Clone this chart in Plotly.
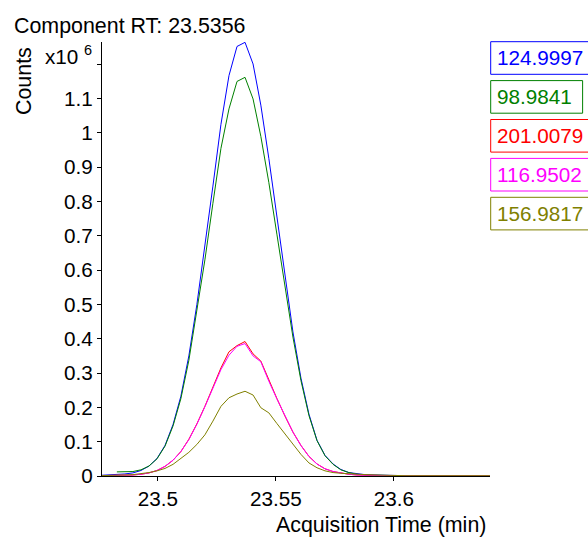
import plotly.graph_objects as go

# Acquisition times (min)
time_min = [
    23.4758, 23.4792, 23.4826, 23.4860, 23.4894, 23.4928, 23.4962, 23.4996,
    23.5030, 23.5064, 23.5097, 23.5131, 23.5165, 23.5199, 23.5233, 23.5267,
    23.5301, 23.5335, 23.5369, 23.5403, 23.5436, 23.5470, 23.5504, 23.5538,
    23.5572, 23.5606, 23.5640, 23.5674, 23.5708, 23.5742, 23.5775, 23.5809,
    23.5843, 23.5877, 23.5911, 23.5945, 23.5979, 23.6013, 23.6047, 23.6081,
    23.6114, 23.6148, 23.6182, 23.6216, 23.6250, 23.6284, 23.6318, 23.6352,
    23.6386, 23.6420,
]

# Ion chromatograms, counts in units of 1e6
mz_124_9997 = [
    0.002, 0.003, 0.004, 0.006, 0.009, 0.016, 0.029, 0.051, 0.089, 0.150,
    0.232, 0.350, 0.500, 0.665, 0.845, 1.025, 1.167, 1.252, 1.264, 1.201,
    1.081, 0.925, 0.755, 0.580, 0.420, 0.285, 0.180, 0.104, 0.060, 0.035,
    0.019, 0.010, 0.006, 0.004, 0.003, 0.002, 0.002, 0.001, 0.001, 0.001,
    0.001, 0.001, 0.001, 0.001, 0.001, 0.001, 0.001, 0.001, 0.001, 0.001,
]
mz_98_9841 = [
    None, None, 0.012, 0.012, 0.013, 0.018, 0.029, 0.050, 0.087, 0.146,
    0.225, 0.337, 0.478, 0.630, 0.795, 0.955, 1.070, 1.150, 1.162, 1.099,
    0.990, 0.855, 0.705, 0.550, 0.405, 0.278, 0.176, 0.103, 0.059, 0.034,
    0.018, 0.010, 0.005, 0.003, 0.002, 0.002, 0.002, 0.001, 0.001, 0.001,
    0.001, 0.001, 0.001, 0.001, 0.001, 0.001, 0.001, 0.001, 0.001, 0.001,
]
mz_201_0079 = [
    0.001, 0.001, 0.002, 0.002, 0.003, 0.005, 0.009, 0.016, 0.028, 0.046,
    0.071, 0.107, 0.152, 0.203, 0.258, 0.315, 0.362, 0.380, 0.392, 0.356,
    0.335, 0.278, 0.226, 0.175, 0.128, 0.089, 0.057, 0.035, 0.021, 0.013,
    0.008, 0.005, 0.003, 0.002, 0.002, 0.002, 0.001, 0.001, 0.001, 0.001,
    0.001, 0.001, 0.001, 0.001, 0.001, 0.001, 0.001, 0.001, 0.001, 0.001,
]
mz_116_9502 = [
    0.001, 0.001, 0.002, 0.002, 0.003, 0.005, 0.009, 0.016, 0.028, 0.046,
    0.071, 0.106, 0.151, 0.202, 0.256, 0.310, 0.352, 0.378, 0.386, 0.350,
    0.333, 0.276, 0.225, 0.174, 0.128, 0.089, 0.057, 0.035, 0.021, 0.013,
    0.008, 0.005, 0.003, 0.002, 0.002, 0.002, 0.001, 0.001, 0.001, 0.001,
    0.001, 0.001, 0.001, 0.001, 0.001, 0.001, 0.001, 0.001, 0.001, 0.001,
]
mz_156_9817 = [
    0.001, 0.001, 0.002, 0.003, 0.004, 0.006, 0.010, 0.015, 0.022, 0.034,
    0.050, 0.069, 0.092, 0.120, 0.160, 0.203, 0.228, 0.239, 0.247, 0.236,
    0.199, 0.184, 0.153, 0.123, 0.094, 0.063, 0.038, 0.024, 0.015, 0.010,
    0.008, 0.006, 0.005, 0.004, 0.003, 0.002, 0.002, 0.002, 0.001, 0.001,
    0.001, 0.001, 0.001, 0.001, 0.001, 0.001, 0.001, 0.001, 0.001, 0.001,
]

ion_labels = ["124.9997", "98.9841", "201.0079", "116.9502", "156.9817"]
ion_series = [mz_124_9997, mz_98_9841, mz_201_0079, mz_116_9502, mz_156_9817]
ion_colors = ["#0000ff", "#008000", "#ff0000", "#ff00ff", "#808000"]

y_tick_vals = [0, 0.1, 0.2, 0.3, 0.4, 0.5, 0.6, 0.7, 0.8, 0.9, 1.0, 1.1, 1.2]
y_tick_text = ["0", "0.1", "0.2", "0.3", "0.4", "0.5", "0.6", "0.7", "0.8",
               "0.9", "1", "1.1", ""]
x_tick_vals = [23.5, 23.55, 23.6]
x_tick_text = ["23.5", "23.55", "23.6"]

title_text = "Component RT: 23.5356"

FONT = "Liberation Sans, Arial, sans-serif"
TITLE_SIZE = 21.4
TICK_SIZE = 20.7
W, H = 588, 538
ML, MR, MT, MB = 102, 98, 42, 62
PW, PH = W - ML - MR, H - MT - MB


def px(xp):
    return (xp - ML) / PW


def py(yp):
    return (H - MB - yp) / PH


fig = go.Figure()
for series, color, label in zip(ion_series, ion_colors, ion_labels):
    fig.add_trace(go.Scatter(
        x=time_min, y=series, mode="lines", name=label,
        line=dict(color=color, width=1), connectgaps=False,
        hoverinfo="skip",
    ))

shapes = []
annotations = []

# Boxed ion labels on the right
for i, (label, color) in enumerate(zip(ion_labels, ion_colors)):
    top = 41.7 + 38.9 * i
    bottom = top + 32.6
    n_digits = sum(ch.isdigit() for ch in label)
    text_w = (0.556 * n_digits + 0.278 * label.count(".")) * TICK_SIZE
    left = 490.7
    right = left + 4.6 + text_w + 12.5
    shapes.append(dict(
        type="rect", xref="paper", yref="paper",
        x0=px(left), x1=px(right), y0=py(bottom), y1=py(top),
        line=dict(color=color, width=1), fillcolor="rgba(0,0,0,0)",
        layer="above",
    ))
    annotations.append(dict(
        xref="paper", yref="paper", x=px(494.5), y=py((top + bottom) / 2),
        xanchor="left", yanchor="middle", text=label, showarrow=False,
        font=dict(family=FONT, size=TICK_SIZE, color=color),
    ))

annotations += [
    dict(xref="paper", yref="paper", x=px(12), y=py(26), xanchor="left",
         yanchor="middle", text=title_text, showarrow=False,
         font=dict(family=FONT, size=TITLE_SIZE, color="black")),
    dict(xref="paper", yref="paper", x=px(24), y=py(81), xanchor="center",
         yanchor="middle", text="Counts", textangle=-90, showarrow=False,
         font=dict(family=FONT, size=TITLE_SIZE, color="black")),
    dict(xref="paper", yref="paper", x=px(43), y=py(55), xanchor="left",
         yanchor="middle", text="x10 <sup>6</sup>", showarrow=False,
         font=dict(family=FONT, size=TICK_SIZE, color="black")),
    dict(xref="paper", yref="paper", x=px(488), y=py(525), xanchor="right",
         yanchor="middle", text="Acquisition Time (min)", showarrow=False,
         font=dict(family=FONT, size=TITLE_SIZE, color="black")),
]

fig.update_layout(
    width=W, height=H,
    margin=dict(l=ML, r=MR, t=MT, b=MB, pad=0),
    paper_bgcolor="white", plot_bgcolor="white",
    showlegend=False,
    font=dict(family=FONT, size=TICK_SIZE, color="black"),
    shapes=shapes, annotations=annotations,
    xaxis=dict(
        range=[23.4763, 23.6407], showgrid=False, zeroline=False,
        showline=True, linecolor="black", linewidth=1,
        ticks="outside", ticklen=4, tickcolor="black", tickwidth=1,
        tickmode="array", tickvals=x_tick_vals, ticktext=x_tick_text,
        tickfont=dict(family=FONT, size=TICK_SIZE, color="black"),
    ),
    yaxis=dict(
        range=[0, 1.265], showgrid=False, zeroline=False,
        showline=True, linecolor="black", linewidth=1,
        ticks="outside", ticklen=4, tickcolor="black", tickwidth=1,
        tickmode="array", tickvals=y_tick_vals, ticktext=y_tick_text,
        tickfont=dict(family=FONT, size=TICK_SIZE, color="black"),
    ),
)

fig.write_html("out.html")
